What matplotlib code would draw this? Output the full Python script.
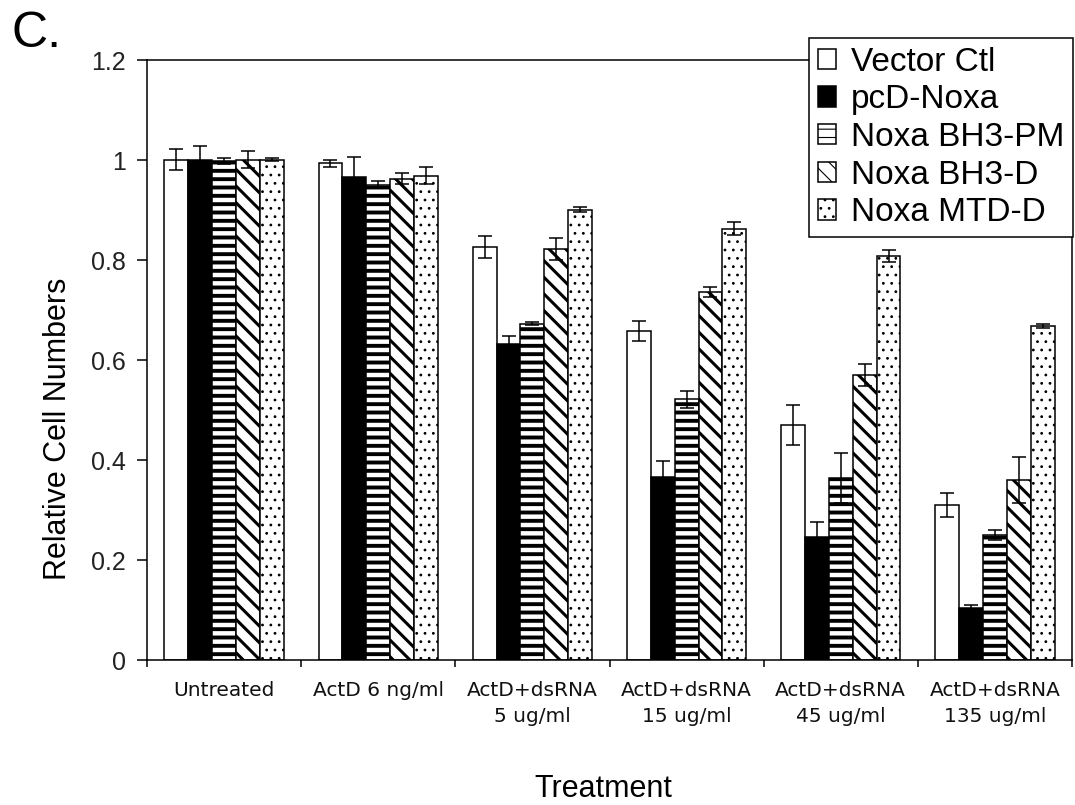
import matplotlib
matplotlib.use("Agg")
import matplotlib.pyplot as plt
import numpy as np

categories = ["Untreated", "ActD 6 ng/ml", "ActD+dsRNA\n5 ug/ml", "ActD+dsRNA\n15 ug/ml",
              "ActD+dsRNA\n45 ug/ml", "ActD+dsRNA\n135 ug/ml"]
series_names = ["Vector Ctl", "pcD-Noxa", "Noxa BH3-PM", "Noxa BH3-D", "Noxa MTD-D"]

vector = [1.0, 0.993, 0.825, 0.658, 0.470, 0.310]
vector_err = [0.021, 0.007, 0.022, 0.020, 0.040, 0.024]
pcd = [1.0, 0.965, 0.632, 0.366, 0.246, 0.104]
pcd_err = [0.028, 0.041, 0.015, 0.031, 0.030, 0.006]
bh3pm = [0.998, 0.950, 0.672, 0.521, 0.364, 0.250]
bh3pm_err = [0.006, 0.007, 0.003, 0.017, 0.050, 0.010]
bh3d = [1.0, 0.962, 0.822, 0.735, 0.570, 0.360]
bh3d_err = [0.017, 0.011, 0.022, 0.010, 0.022, 0.046]
mtd = [1.0, 0.968, 0.900, 0.862, 0.808, 0.668]
mtd_err = [0.003, 0.017, 0.005, 0.013, 0.012, 0.004]

yticks = [0, 0.2, 0.4, 0.6, 0.8, 1.0, 1.2]
ytick_labels = ["0", "0.2", "0.4", "0.6", "0.8", "1", "1.2"]

values = [vector, pcd, bh3pm, bh3d, mtd]
errors = [vector_err, pcd_err, bh3pm_err, bh3d_err, mtd_err]
faces = ["white", "black", "white", "white", "white"]
hatches = [None, None, "--", "\\\\", ".."]
hatch_lw = [1.0, 1.0, 2.8, 2.2, 0.8]
hatch_col = ["black", "black", "black", "black", "#333333"]

plt.rcParams['font.family'] = ['Liberation Sans', 'DejaVu Sans']

fig = plt.figure(figsize=(10.75, 8.05), dpi=100)
ax = fig.add_axes([147/1075, 145/805, (1072-147)/1075, 600/805])

x = np.arange(len(categories))
bw = 0.155
for j in range(5):
    plt.rcParams['hatch.linewidth'] = hatch_lw[j]
    plt.rcParams['hatch.color'] = hatch_col[j]
    bars = ax.bar(x + (j - 2) * bw, values[j], bw, color=faces[j], edgecolor="black",
                  linewidth=1.1, hatch=hatches[j], label=series_names[j], zorder=2)
    for b in bars:
        if hasattr(b, "set_hatch_linewidth"):
            b.set_hatch_linewidth(hatch_lw[j])
    ax.errorbar(x + (j - 2) * bw, values[j], yerr=errors[j], fmt='none', ecolor='black',
                elinewidth=1.1, capsize=4.7, capthick=1.1, zorder=3)

ax.set_xlim(-0.5, len(categories) - 0.5)
ax.set_ylim(0, 1.2)
ax.set_yticks(yticks)
ax.set_yticklabels(ytick_labels, fontsize=18, color="#222222")
ax.tick_params(axis='y', direction='out', length=7, width=1.1, pad=8)

ax.set_xticks(x)
ax.set_xticklabels(categories, fontsize=14.5, family='DejaVu Sans', linespacing=1.45,
                   color="#111111")
ax.set_xticks(np.arange(len(categories) + 1) - 0.5, minor=True)
ax.tick_params(axis='x', which='major', length=0, pad=15)
ax.tick_params(axis='x', which='minor', direction='out', length=5, width=1.1)

for s in ax.spines.values():
    s.set_linewidth(1.1)
    s.set_color("black")

leg = fig.legend(loc='upper right', bbox_to_anchor=(1073/1075, 1 - 38/805),
                 fontsize=24, frameon=True, fancybox=False, shadow=False,
                 handlelength=0.55, handleheight=0.55, handletextpad=0.45,
                 labelspacing=0.2, borderpad=0.26, borderaxespad=0)
leg.get_frame().set_edgecolor("black")
leg.get_frame().set_linewidth(1.1)
leg.get_frame().set_alpha(1)

fig.text(12/1075, 1 - 47/805, "C.", fontsize=36, va='baseline', ha='left')
fig.text(58/1075, 1 - 429/805, "Relative Cell Numbers", rotation=90, va='center',
         ha='center', fontsize=22)
fig.text(603/1075, 1 - 797/805, "Treatment", va='baseline', ha='center', fontsize=22)

fig.savefig("out.png", dpi=100)
